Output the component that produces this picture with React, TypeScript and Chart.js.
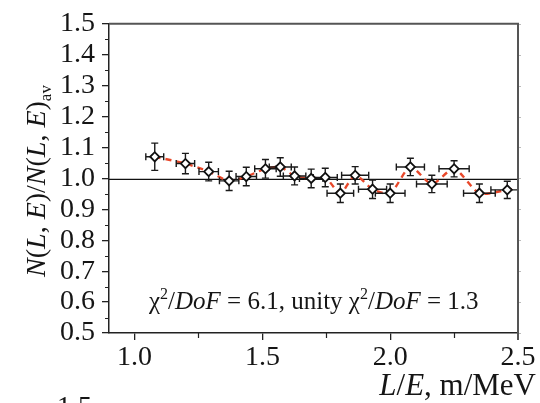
import React, { useEffect, useRef } from "react";
import { Chart, registerables } from "chart.js";
Chart.register(...registerables);

// L/E bin centres (m/MeV)
const xValues = [1.079, 1.199, 1.29, 1.37, 1.437, 1.512, 1.57, 1.626, 1.691, 1.746, 1.805, 1.863, 1.931, 2.0, 2.079, 2.163, 2.25, 2.349, 2.458];
// ratio N(L,E)/N(L,E)av
const yValues = [1.07, 1.048, 1.022, 0.992, 1.006, 1.031, 1.037, 1.008, 1.0, 1.003, 0.952, 1.01, 0.965, 0.952, 1.037, 0.982, 1.031, 0.952, 0.963];
const xErrors = [0.035, 0.036, 0.038, 0.038, 0.04, 0.042, 0.043, 0.044, 0.046, 0.047, 0.052, 0.053, 0.055, 0.058, 0.055, 0.06, 0.059, 0.062, 0.064];
const yErrors = [0.044, 0.033, 0.03, 0.031, 0.03, 0.03, 0.03, 0.029, 0.03, 0.03, 0.03, 0.028, 0.03, 0.03, 0.028, 0.028, 0.026, 0.03, 0.028];
// fit curve (red dashed)
const fitX = [1.079, 1.199, 1.29, 1.37, 1.437, 1.512, 1.57, 1.626, 1.691, 1.746, 1.805, 1.863, 1.931, 2.0, 2.079, 2.163, 2.25, 2.349, 2.458, 2.5];
const fitY = [1.07, 1.048, 1.022, 0.992, 1.006, 1.031, 1.037, 1.008, 1.0, 1.003, 0.952, 1.01, 0.965, 0.952, 1.037, 0.982, 1.031, 0.952, 0.963, 0.968];
const unityLevel = 0.997;

const xTicks = [1.0, 1.5, 2.0, 2.5];
const xMinorTicks = [1.25, 1.75, 2.25];
const yTicks = [0.5, 0.6, 0.7, 0.8, 0.9, 1.0, 1.1, 1.2, 1.3, 1.4, 1.5];
const yMinorTicks = [0.55, 0.65, 0.75, 0.85, 0.95, 1.05, 1.15, 1.25, 1.35, 1.45];

const annotationText = [
  { t: "\u03C7" },
  { t: "2", sup: true },
  { t: "/" },
  { t: "DoF", it: true },
  { t: " = 6.1, unity " },
  { t: "\u03C7" },
  { t: "2", sup: true },
  { t: "/" },
  { t: "DoF", it: true },
  { t: " = 1.3" },
];
const yTitle = [
  { t: "N", it: true }, { t: "(" }, { t: "L", it: true }, { t: ", " }, { t: "E", it: true }, { t: ")/" },
  { t: "N", it: true }, { t: "(" }, { t: "L", it: true }, { t: ", " }, { t: "E", it: true }, { t: ")" },
  { t: "av", sub: true },
];
const xTitle = [{ t: "L", it: true }, { t: "/" }, { t: "E", it: true }, { t: ", m/MeV" }];

const FONT = '"Liberation Serif", "Times New Roman", serif';
const TXT = "#151515";

type Run = { t: string; it?: boolean; sup?: boolean; sub?: boolean };

function drawRuns(ctx: CanvasRenderingContext2D, runs: Run[], x: number, y: number, size: number, align: string) {
  const fontFor = (r: Run) => `${r.it ? "italic " : ""}${r.sup || r.sub ? Math.round(size * 0.62) : size}px ${FONT}`;
  let total = 0;
  for (const r of runs) {
    ctx.font = fontFor(r);
    total += ctx.measureText(r.t).width;
  }
  let cx = align === "right" ? x - total : align === "center" ? x - total / 2 : x;
  ctx.textAlign = "left";
  ctx.textBaseline = "alphabetic";
  for (const r of runs) {
    ctx.font = fontFor(r);
    const dy = r.sup ? -size * 0.4 : r.sub ? size * 0.22 : 0;
    ctx.fillText(r.t, cx, y + dy);
    cx += ctx.measureText(r.t).width;
  }
}

const decorPlugin = {
  id: "decor",
  beforeDatasetDraw(chart: any, args: any) {
    if (args.index !== 0) return;
    const ctx = chart.ctx;
    const xs = chart.scales.x;
    const ys = chart.scales.y;
    ctx.save();
    ctx.strokeStyle = "#1a1a1a";
    ctx.lineWidth = 1.4;
    const cap = 3.5;
    for (let i = 0; i < xValues.length; i++) {
      const px = xs.getPixelForValue(xValues[i]);
      const py = ys.getPixelForValue(yValues[i]);
      const x0 = xs.getPixelForValue(xValues[i] - xErrors[i]);
      const x1 = Math.min(xs.getPixelForValue(xValues[i] + xErrors[i]), chart.chartArea.right);
      const y0 = ys.getPixelForValue(yValues[i] + yErrors[i]);
      const y1 = ys.getPixelForValue(yValues[i] - yErrors[i]);
      ctx.beginPath();
      ctx.moveTo(x0, py); ctx.lineTo(x1, py);
      ctx.moveTo(x0, py - cap); ctx.lineTo(x0, py + cap);
      if (x1 < chart.chartArea.right) { ctx.moveTo(x1, py - cap); ctx.lineTo(x1, py + cap); }
      ctx.moveTo(px, y0); ctx.lineTo(px, y1);
      ctx.moveTo(px - cap, y0); ctx.lineTo(px + cap, y0);
      ctx.moveTo(px - cap, y1); ctx.lineTo(px + cap, y1);
      ctx.stroke();
    }
    ctx.restore();
  },
  afterDraw(chart: any) {
    const ctx = chart.ctx;
    const xs = chart.scales.x;
    const ys = chart.scales.y;
    const a = chart.chartArea;
    ctx.save();
    // minor ticks
    ctx.strokeStyle = "#222";
    ctx.lineWidth = 1.2;
    ctx.beginPath();
    for (const v of yMinorTicks) {
      const p = Math.round(ys.getPixelForValue(v)) + 0.5;
      ctx.moveTo(a.left - 4, p); ctx.lineTo(a.left, p);
    }
    for (const v of xMinorTicks) {
      const p = Math.round(xs.getPixelForValue(v)) + 0.5;
      ctx.moveTo(p, a.bottom); ctx.lineTo(p, a.bottom + 5);
    }
    ctx.stroke();
    // right-side faint ticks
    ctx.strokeStyle = "#bbb";
    ctx.lineWidth = 1;
    ctx.beginPath();
    for (const v of yTicks) {
      const p = Math.round(ys.getPixelForValue(v)) + 0.5;
      ctx.moveTo(a.right, p); ctx.lineTo(a.right + 3, p);
    }
    ctx.stroke();
    // top & right frame
    ctx.strokeStyle = "#555";
    ctx.lineWidth = 2;
    ctx.beginPath();
    ctx.moveTo(a.left, a.top); ctx.lineTo(a.right, a.top); ctx.lineTo(a.right, a.bottom + 7);
    ctx.stroke();
    // texts
    ctx.fillStyle = TXT;
    drawRuns(ctx, annotationText, 149, 309, 25, "left");
    drawRuns(ctx, xTitle, 536, 395, 31, "right");
    ctx.save();
    ctx.translate(45, 181);
    ctx.rotate(-Math.PI / 2);
    drawRuns(ctx, yTitle, 0, 0, 28, "center");
    ctx.restore();
    // top of next panel's tick label (cropped)
    ctx.font = `28px ${FONT}`;
    ctx.textAlign = "right";
    ctx.textBaseline = "middle";
    ctx.fillText("1.5", 92, 408);
    ctx.restore();
  },
};

export default function App() {
  const ref = useRef<HTMLCanvasElement | null>(null);
  useEffect(() => {
    if (!ref.current) return;
    const chart = new Chart(ref.current, {
      type: "scatter",
      data: {
        datasets: [
          {
            label: "data",
            data: xValues.map((x, i) => ({ x, y: yValues[i] })),
            pointStyle: "rectRot",
            pointRadius: 4.6,
            pointBackgroundColor: "#ffffff",
            pointBorderColor: "#111",
            pointBorderWidth: 1.8,
            showLine: false,
            order: 0,
          },
          {
            label: "fit",
            data: fitX.map((x, i) => ({ x, y: fitY[i] })),
            showLine: true,
            borderColor: "#e8482a",
            borderWidth: 2.4,
            borderDash: [6, 5],
            tension: 0.25,
            pointRadius: 0,
            order: 1,
          },
          {
            label: "unity",
            data: [{ x: 0.9, y: unityLevel }, { x: 2.5, y: unityLevel }],
            showLine: true,
            borderColor: "#111",
            borderWidth: 1.3,
            pointRadius: 0,
            order: 2,
          },
        ],
      },
      options: {
        animation: false,
        responsive: true,
        maintainAspectRatio: false,
        layout: { padding: { left: 0, top: 22, right: 22, bottom: 0 } },
        plugins: { legend: { display: false }, tooltip: { enabled: false } },
        scales: {
          x: {
            type: "linear",
            min: 0.9,
            max: 2.5,
            afterBuildTicks: (axis: any) => { axis.ticks = xTicks.map((v) => ({ value: v })); },
            afterFit: (s: any) => { s.height = 70; },
            ticks: {
              autoSkip: false,
              maxRotation: 0,
              padding: 1,
              color: TXT,
              font: { family: FONT, size: 28 },
              callback: (v: any) => Number(v).toFixed(1),
            },
            grid: { drawOnChartArea: false, drawTicks: true, tickLength: 7, color: "#222", lineWidth: 1.3 },
            border: { display: true, color: "#222", width: 1.5 },
          },
          y: {
            type: "linear",
            min: 0.5,
            max: 1.5,
            afterBuildTicks: (axis: any) => { axis.ticks = yTicks.map((v) => ({ value: v })); },
            afterFit: (s: any) => { s.width = 109; },
            ticks: {
              autoSkip: false,
              padding: 7,
              color: TXT,
              font: { family: FONT, size: 28 },
              callback: (v: any) => Number(v).toFixed(1),
            },
            grid: { drawOnChartArea: false, drawTicks: true, tickLength: 7, color: "#222", lineWidth: 1.3 },
            border: { display: true, color: "#222", width: 1.5 },
          },
        },
      },
      plugins: [decorPlugin],
    } as any);
    return () => chart.destroy();
  }, []);
  return (
    <div style={{ position: "fixed", left: 0, top: 0, width: 540, height: 403, background: "#fff" }}>
      <canvas ref={ref} />
    </div>
  );
}
